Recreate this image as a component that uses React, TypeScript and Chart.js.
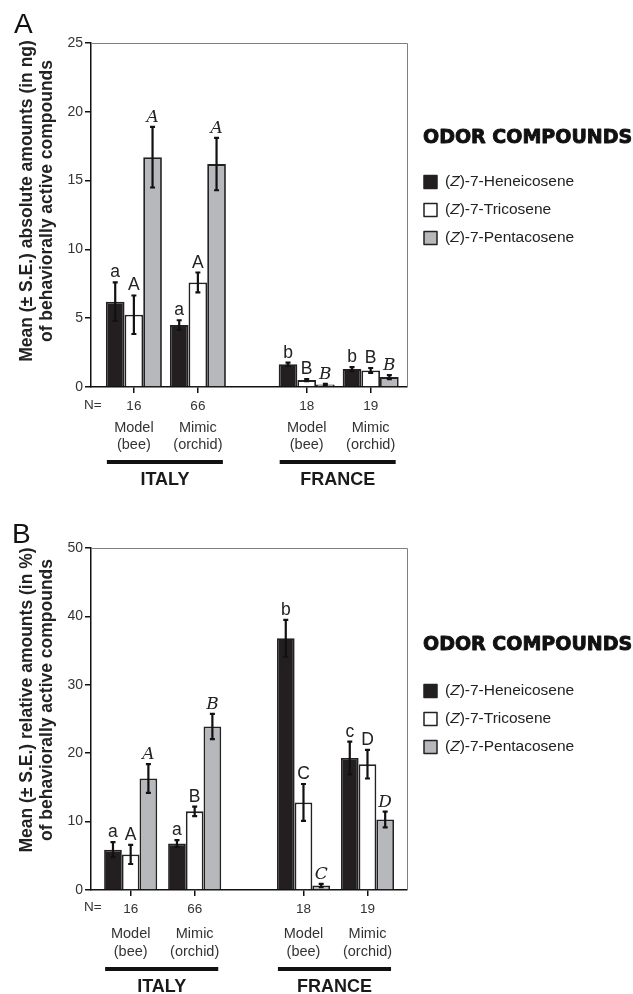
import React, { useEffect, useRef } from "react";
import { Chart, registerables } from "chart.js";

Chart.register(...registerables);
Chart.defaults.font.family = "'Liberation Sans', Arial, sans-serif";

// ---------- data ----------
const seriesNames = ["(Z)-7-Heneicosene", "(Z)-7-Tricosene", "(Z)-7-Pentacosene"];
const groupN = ["16", "66", "18", "19"];
const groupTypeTop = ["Model", "Mimic", "Model", "Mimic"];
const groupTypeBottom = ["(bee)", "(orchid)", "(bee)", "(orchid)"];
const regions = ["ITALY", "FRANCE"];

// Panel A: absolute amounts (ng)
const absHen = [6.2, 4.5, 1.65, 1.3];
const absHenSE = [1.4, 0.35, 0.12, 0.15];
const absTri = [5.25, 7.6, 0.5, 1.2];
const absTriSE = [1.4, 0.72, 0.08, 0.18];
const absPen = [16.7, 16.2, 0.18, 0.72];
const absPenSE = [2.2, 1.9, 0.05, 0.15];
const absLetHen = ["a", "a", "b", "b"];
const absLetTri = ["A", "A", "B", "B"];
const absLetPen = ["A", "A", "B", "B"];

// Panel B: relative amounts (%)
const relHen = [5.9, 6.8, 36.8, 19.3];
const relHenSE = [1.1, 0.5, 2.7, 2.4];
const relTri = [5.2, 11.5, 12.8, 18.4];
const relTriSE = [1.4, 0.7, 2.7, 2.1];
const relPen = [16.3, 23.9, 0.65, 10.3];
const relPenSE = [2.1, 1.85, 0.25, 1.15];
const relLetHen = ["a", "a", "b", "c"];
const relLetTri = ["A", "B", "C", "D"];
const relLetPen = ["A", "B", "C", "D"];

// ---------- layout / style ----------
const groupX = [1, 2, 3.7, 4.7];
const barColors = ["#231f20", "#ffffff", "#b7b8bb"];
const W = 633;
const H = 497;

type Panel = {
  letter: string;
  letterX: number;
  letterY: number;
  title1: string;
  title2: string;
  titleCY: number;
  yMax: number;
  yStep: number;
  vals: number[][];
  ses: number[][];
  lets: string[][];
  top: number;
  xAxisH: number;
  xMin: number;
  catPct: number;
  legendTop: number;
  legendGap: number;
  nY: number;
  typeY1: number;
  typeY2: number;
  lineY: number;
  regionY: number;
};

const panelA: Panel = {
  letter: "A",
  letterX: 14,
  letterY: 33,
  title1: "Mean (\u00B1 S.E.) absolute amounts (in ng)",
  title2: "of behaviorally active compounds",
  titleCY: 201,
  yMax: 25,
  yStep: 5,
  vals: [absHen, absTri, absPen],
  ses: [absHenSE, absTriSE, absPenSE],
  lets: [absLetHen, absLetTri, absLetPen],
  top: 43,
  xAxisH: 110,
  xMin: 0.33,
  catPct: 0.875,
  legendTop: 143,
  legendGap: 39,
  nY: 18,
  typeY1: 41,
  typeY2: 58,
  lineY: 75,
  regionY: 93,
};

const panelB: Panel = {
  letter: "B",
  letterX: 12,
  letterY: 46,
  title1: "Mean (\u00B1 S.E.) relative amounts (in %)",
  title2: "of behaviorally active compounds",
  titleCY: 203,
  yMax: 50,
  yStep: 10,
  vals: [relHen, relTri, relPen],
  ses: [relHenSE, relTriSE, relPenSE],
  lets: [relLetHen, relLetTri, relLetPen],
  top: 51,
  xAxisH: 104,
  xMin: 0.38,
  catPct: 0.83,
  legendTop: 153,
  legendGap: 41,
  nY: 17,
  typeY1: 44,
  typeY2: 62,
  lineY: 79,
  regionY: 97,
};

function buildConfig(p: Panel): any {
  const datasets = p.vals.map((vals, d) => ({
    label: seriesNames[d],
    data: groupX.map((x, i) => ({ x, y: vals[i] })),
    backgroundColor: barColors[d],
    borderColor: "#222",
    borderWidth: 1.8,
    borderSkipped: "bottom",
    categoryPercentage: p.catPct,
    barPercentage: 1,
  }));

  const plugin = {
    id: "custom-" + p.letter,
    afterDatasetsDraw(chart: any) {
      const ctx = chart.ctx;
      const ys = chart.scales.y;
      ctx.save();
      for (let d = 0; d < 3; d++) {
        const meta = chart.getDatasetMeta(d);
        meta.data.forEach((bar: any, i: number) => {
          const v = p.vals[d][i];
          const se = p.ses[d][i];
          const yt = ys.getPixelForValue(v + se);
          const yb = ys.getPixelForValue(Math.max(0, v - se));
          ctx.strokeStyle = "#111";
          ctx.lineWidth = 2.2;
          ctx.beginPath();
          ctx.moveTo(bar.x, yb);
          ctx.lineTo(bar.x, yt);
          ctx.moveTo(bar.x - 2.5, yt);
          ctx.lineTo(bar.x + 2.5, yt);
          ctx.moveTo(bar.x - 2.5, yb);
          ctx.lineTo(bar.x + 2.5, yb);
          ctx.stroke();
          ctx.fillStyle = "#222";
          ctx.textAlign = "center";
          ctx.textBaseline = "alphabetic";
          ctx.font = d === 2 ? "italic 17px 'DejaVu Serif'" : "17.5px 'Liberation Sans'";
          ctx.fillText(p.lets[d][i], bar.x, yt - 5);
        });
      }
      ctx.restore();
    },
    afterDraw(chart: any) {
      const ctx = chart.ctx;
      const ca = chart.chartArea;
      ctx.save();
      // top & right frame
      ctx.strokeStyle = "#808080";
      ctx.lineWidth = 1;
      ctx.beginPath();
      ctx.moveTo(ca.left, ca.top + 0.5);
      ctx.lineTo(ca.right + 0.5, ca.top + 0.5);
      ctx.lineTo(ca.right + 0.5, ca.bottom);
      ctx.stroke();

      // panel letter
      ctx.fillStyle = "#111";
      ctx.textAlign = "left";
      ctx.textBaseline = "alphabetic";
      ctx.font = "28px 'Liberation Sans'";
      ctx.fillText(p.letter, p.letterX, p.letterY);

      // y title
      ctx.save();
      ctx.translate(27, p.titleCY);
      ctx.rotate(-Math.PI / 2);
      ctx.textAlign = "center";
      ctx.textBaseline = "middle";
      ctx.font = "bold 17.5px 'Liberation Sans'";
      ctx.fillStyle = "#222";
      ctx.fillText(p.title1, 0, 0);
      ctx.fillText(p.title2, 0, 20);
      ctx.restore();

      // N=
      const b = ca.bottom;
      ctx.fillStyle = "#333";
      ctx.font = "13.5px 'Liberation Sans'";
      ctx.textAlign = "left";
      ctx.textBaseline = "middle";
      ctx.fillText("N=", 84, b + p.nY);

      // group type labels
      const xs = chart.scales.x;
      ctx.textAlign = "center";
      ctx.font = "14.5px 'Liberation Sans'";
      groupX.forEach((gx, i) => {
        const px = xs.getPixelForValue(gx);
        ctx.fillText(groupTypeTop[i], px, b + p.typeY1);
        ctx.fillText(groupTypeBottom[i], px, b + p.typeY2);
      });

      // region lines and labels
      const m0 = chart.getDatasetMeta(0).data;
      const m2 = chart.getDatasetMeta(2).data;
      regions.forEach((r, k) => {
        const i0 = k * 2;
        const i1 = k * 2 + 1;
        const x0 = m0[i0].x - m0[i0].width / 2 + 1;
        const x1 = m2[i1].x + m2[i1].width / 2 - 3;
        ctx.fillStyle = "#111";
        ctx.fillRect(x0, b + p.lineY - 2, x1 - x0, 4);
        ctx.font = "bold 18px 'Liberation Sans'";
        ctx.textAlign = "center";
        ctx.textBaseline = "middle";
        ctx.fillStyle = "#1a1a1a";
        ctx.fillText(r, (x0 + x1) / 2, b + p.regionY);
      });

      // legend
      ctx.textAlign = "left";
      ctx.textBaseline = "alphabetic";
      ctx.fillStyle = "#111";
      ctx.strokeStyle = "#111";
      ctx.lineWidth = 0.9;
      ctx.lineJoin = "round";
      ctx.font = "bold 19px 'DejaVu Sans'";
      ctx.fillText("ODOR COMPOUNDS", 423, p.legendTop);
      ctx.strokeText("ODOR COMPOUNDS", 423, p.legendTop);
      seriesNames.forEach((name, k) => {
        const cy = p.legendTop + p.legendGap + k * 28;
        ctx.fillStyle = barColors[k];
        ctx.fillRect(424, cy - 6.5, 13, 13);
        ctx.strokeStyle = "#222";
        ctx.lineWidth = 1.5;
        ctx.strokeRect(424, cy - 6.5, 13, 13);
        ctx.fillStyle = "#222";
        ctx.textBaseline = "middle";
        let x = 445;
        ctx.font = "15.5px 'Liberation Sans'";
        ctx.fillText("(", x, cy);
        x += ctx.measureText("(").width;
        ctx.font = "italic 15.5px 'Liberation Sans'";
        ctx.fillText("Z", x, cy);
        x += ctx.measureText("Z").width;
        ctx.font = "15.5px 'Liberation Sans'";
        ctx.fillText(name.slice(2), x, cy);
      });
      ctx.restore();
    },
  };

  return {
    type: "bar",
    data: { datasets },
    plugins: [plugin],
    options: {
      responsive: false,
      animation: false,
      layout: { padding: { left: 0, top: p.top, right: W - 407, bottom: 0 } },
      plugins: { legend: { display: false }, tooltip: { enabled: false } },
      scales: {
        x: {
          type: "linear",
          min: p.xMin,
          max: p.xMin + 316 / 64,
          offset: false,
          grid: {
            offset: false,
            drawOnChartArea: false,
            drawTicks: true,
            tickLength: 6,
            color: "#111",
            lineWidth: 1.5,
          },
          border: { display: true, color: "#111", width: 1.5 },
          afterBuildTicks: (scale: any) => {
            scale.ticks = groupX.map((v) => ({ value: v }));
          },
          afterFit: (scale: any) => {
            scale.height = p.xAxisH;
          },
          ticks: {
            autoSkip: false,
            maxRotation: 0,
            padding: 5,
            color: "#333",
            font: { size: 13.5 },
            callback: (_v: any, i: number) => groupN[i],
          },
        },
        y: {
          min: 0,
          max: p.yMax,
          grid: {
            drawOnChartArea: false,
            drawTicks: true,
            tickLength: 6,
            color: "#111",
            lineWidth: 1.5,
          },
          border: { display: true, color: "#111", width: 1.5 },
          afterFit: (scale: any) => {
            scale.width = 91;
          },
          ticks: {
            stepSize: p.yStep,
            padding: 2,
            color: "#333",
            font: { size: 14 },
          },
        },
      },
    },
  };
}

function PanelChart({ panel, top }: { panel: Panel; top: number }) {
  const ref = useRef<HTMLCanvasElement | null>(null);
  useEffect(() => {
    if (!ref.current) return;
    const chart = new Chart(ref.current, buildConfig(panel));
    return () => chart.destroy();
  }, [panel]);
  return (
    <canvas
      ref={ref}
      width={W}
      height={H}
      style={{ position: "absolute", left: 0, top, width: W, height: H }}
    />
  );
}

export default function App() {
  return (
    <div
      style={{
        position: "absolute",
        left: 0,
        top: 0,
        width: W,
        height: 994,
        background: "#fff",
      }}
    >
      <PanelChart panel={panelA} top={0} />
      <PanelChart panel={panelB} top={H} />
    </div>
  );
}
